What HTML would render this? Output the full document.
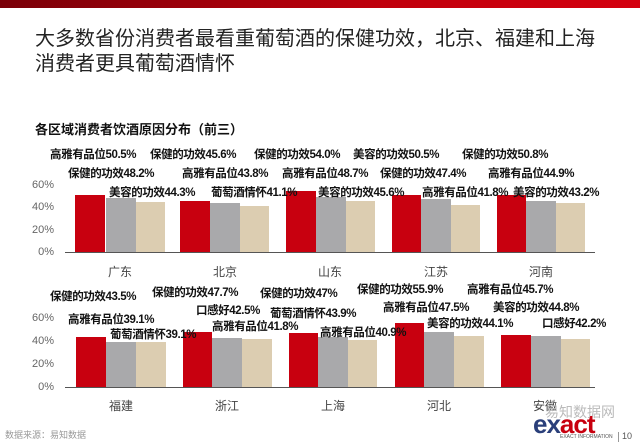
<!DOCTYPE html>
<html><head><meta charset="utf-8"><style>
body{margin:0;width:640px;height:443px;overflow:hidden;background:#fff;position:relative;font-family:"Liberation Sans","Noto Sans CJK SC",sans-serif}
.a{position:absolute;white-space:nowrap}
.l{position:absolute;white-space:nowrap;font-size:11.5px;font-weight:bold;color:#111;line-height:14px;transform:translateY(-7px);letter-spacing:-0.4px}
.b{position:absolute}
.r{background:#c8000f}.g{background:#a9a9ab}.t{background:#dccdb1}
.y{position:absolute;font-size:11px;color:#666;width:30px;text-align:right;line-height:12px}
.x{position:absolute;font-size:12px;color:#444;width:60px;text-align:center}
</style></head><body>
<div class="a" style="left:0;top:0;width:640px;height:8px;background:linear-gradient(90deg,#7a0008,#c0000c 60%,#d4000f)"></div>
<div class="a" style="left:35px;top:27px;font-size:20px;line-height:25px;color:#222">大多数省份消费者最看重葡萄酒的保健功效，北京、福建和上海<br>消费者更具葡萄酒情怀</div>
<div class="a" style="left:35px;top:119px;font-size:13px;font-weight:bold;color:#111">各区域消费者饮酒原因分布（前三）</div>

<div class="b" style="left:65px;top:252px;width:530px;height:1px;background:#555"></div>
<div class="y" style="left:24px;top:179px">60%</div>
<div class="y" style="left:24px;top:201px">40%</div>
<div class="y" style="left:24px;top:224px">20%</div>
<div class="y" style="left:24px;top:246px">0%</div>
<div class="b" style="left:65px;top:387px;width:530px;height:1px;background:#555"></div>
<div class="y" style="left:24px;top:312px">60%</div>
<div class="y" style="left:24px;top:335px">40%</div>
<div class="y" style="left:24px;top:358px">20%</div>
<div class="y" style="left:24px;top:381px">0%</div>

<div class="b r" style="left:75px;top:195px;width:30px;height:57px"></div>
<div class="b g" style="left:106px;top:198px;width:30px;height:54px"></div>
<div class="b t" style="left:136px;top:202px;width:29px;height:50px"></div>
<div class="b r" style="left:180px;top:201px;width:30px;height:51px"></div>
<div class="b g" style="left:210px;top:203px;width:30px;height:49px"></div>
<div class="b t" style="left:240px;top:206px;width:29px;height:46px"></div>
<div class="b r" style="left:286px;top:191px;width:30px;height:61px"></div>
<div class="b g" style="left:316px;top:197px;width:30px;height:55px"></div>
<div class="b t" style="left:346px;top:201px;width:29px;height:51px"></div>
<div class="b r" style="left:392px;top:195px;width:29px;height:57px"></div>
<div class="b g" style="left:421px;top:199px;width:30px;height:53px"></div>
<div class="b t" style="left:451px;top:205px;width:29px;height:47px"></div>
<div class="b r" style="left:497px;top:195px;width:29px;height:57px"></div>
<div class="b g" style="left:526px;top:201px;width:30px;height:51px"></div>
<div class="b t" style="left:556px;top:203px;width:29px;height:49px"></div>

<div class="b r" style="left:76px;top:337px;width:30px;height:50px"></div>
<div class="b g" style="left:106px;top:342px;width:30px;height:45px"></div>
<div class="b t" style="left:136px;top:342px;width:30px;height:45px"></div>
<div class="b r" style="left:183px;top:332px;width:29px;height:55px"></div>
<div class="b g" style="left:212px;top:338px;width:30px;height:49px"></div>
<div class="b t" style="left:242px;top:339px;width:30px;height:48px"></div>
<div class="b r" style="left:289px;top:333px;width:29px;height:54px"></div>
<div class="b g" style="left:318px;top:337px;width:30px;height:50px"></div>
<div class="b t" style="left:348px;top:340px;width:29px;height:47px"></div>
<div class="b r" style="left:395px;top:323px;width:29px;height:64px"></div>
<div class="b g" style="left:424px;top:332px;width:30px;height:55px"></div>
<div class="b t" style="left:454px;top:336px;width:30px;height:51px"></div>
<div class="b r" style="left:501px;top:335px;width:30px;height:52px"></div>
<div class="b g" style="left:531px;top:336px;width:30px;height:51px"></div>
<div class="b t" style="left:561px;top:339px;width:29px;height:48px"></div>

<div class="x" style="left:90px;top:263px">广东</div>
<div class="x" style="left:195px;top:263px">北京</div>
<div class="x" style="left:300px;top:263px">山东</div>
<div class="x" style="left:406px;top:263px">江苏</div>
<div class="x" style="left:511px;top:263px">河南</div>
<div class="x" style="left:91px;top:397px">福建</div>
<div class="x" style="left:197px;top:397px">浙江</div>
<div class="x" style="left:303px;top:397px">上海</div>
<div class="x" style="left:409px;top:397px">河北</div>
<div class="x" style="left:515px;top:397px">安徽</div>

<div class="l" style="left:50px;top:155px">高雅有品位50.5%</div>
<div class="l" style="left:68px;top:174px">保健的功效48.2%</div>
<div class="l" style="left:109px;top:193px">美容的功效44.3%</div>
<div class="l" style="left:150px;top:155px">保健的功效45.6%</div>
<div class="l" style="left:182px;top:174px">高雅有品位43.8%</div>
<div class="l" style="left:211px;top:193px">葡萄酒情怀41.1%</div>
<div class="l" style="left:254px;top:155px">保健的功效54.0%</div>
<div class="l" style="left:282px;top:174px">高雅有品位48.7%</div>
<div class="l" style="left:318px;top:193px">美容的功效45.6%</div>
<div class="l" style="left:353px;top:155px">美容的功效50.5%</div>
<div class="l" style="left:380px;top:174px">保健的功效47.4%</div>
<div class="l" style="left:422px;top:193px">高雅有品位41.8%</div>
<div class="l" style="left:462px;top:155px">保健的功效50.8%</div>
<div class="l" style="left:488px;top:174px">高雅有品位44.9%</div>
<div class="l" style="left:513px;top:193px">美容的功效43.2%</div>

<div class="l" style="left:50px;top:297px">保健的功效43.5%</div>
<div class="l" style="left:68px;top:320px">高雅有品位39.1%</div>
<div class="l" style="left:110px;top:335px">葡萄酒情怀39.1%</div>
<div class="l" style="left:152px;top:293px">保健的功效47.7%</div>
<div class="l" style="left:196px;top:311px">口感好42.5%</div>
<div class="l" style="left:212px;top:327px">高雅有品位41.8%</div>
<div class="l" style="left:260px;top:294px">保健的功效47%</div>
<div class="l" style="left:270px;top:314px">葡萄酒情怀43.9%</div>
<div class="l" style="left:320px;top:333px">高雅有品位40.9%</div>
<div class="l" style="left:357px;top:290px">保健的功效55.9%</div>
<div class="l" style="left:383px;top:308px">高雅有品位47.5%</div>
<div class="l" style="left:427px;top:324px">美容的功效44.1%</div>
<div class="l" style="left:467px;top:290px">高雅有品位45.7%</div>
<div class="l" style="left:493px;top:308px">美容的功效44.8%</div>
<div class="l" style="left:542px;top:324px">口感好42.2%</div>

<div class="a" style="left:5px;top:428px;font-size:9px;color:#999">数据来源：易知数据</div>
<div class="a" style="left:545px;top:402px;font-size:14px;color:#bbb">易知数据网</div>
<div class="a" style="left:533px;top:409px;font-size:26px;font-weight:bold;color:#2a3f7a;letter-spacing:-1px">ex<span style="color:#c8000f">a</span><span style="color:#c8000f">ct</span></div>
<div class="a" style="left:560px;top:434px;font-size:5px;color:#555">EXACT INFORMATION</div>
<div class="a" style="left:618px;top:432px;width:1px;height:10px;background:#999"></div>
<div class="a" style="left:622px;top:431px;font-size:9px;color:#555">10</div>
</body></html>
